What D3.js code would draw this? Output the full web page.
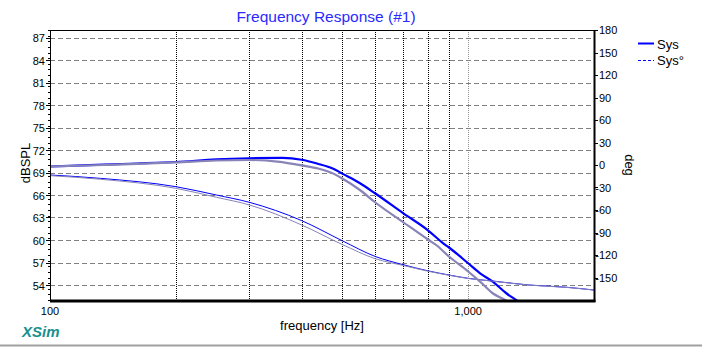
<!DOCTYPE html>
<html><head><meta charset="utf-8">
<script src="https://cdn.jsdelivr.net/npm/d3@7"></script>
<style>body{margin:0;background:#fff}svg{display:block}text{font-family:Arial,"Liberation Sans",sans-serif}</style>
</head><body><svg id="c" width="702" height="347"></svg>
<script>
// ---- data ----
const title = "Frequency Response (#1)";
const xLabel = "frequency [Hz]";
const yLabelLeft = "dBSPL";
const yLabelRight = "deg";
const xTickValues = [100, 1000];
const xGridValues = [200, 300, 400, 500, 600, 700, 800, 900, 1000];
const dbTicks = [54, 57, 60, 63, 66, 69, 72, 75, 78, 81, 84, 87];
const degTicks = [-150, -120, -90, -60, -30, 0, 30, 60, 90, 120, 150, 180];

const splSysFreq = [100, 134, 161, 200, 250, 300, 360, 400, 435, 476, 500, 550, 600, 700, 800, 872, 900, 1000, 1068, 1145, 1234, 1302, 1400];
const splSysDb   = [69.8, 70.05, 70.2, 70.4, 70.75, 70.9, 70.95, 70.7, 70.2, 69.5, 68.85, 67.6, 66.2, 63.55, 61.33, 59.55, 59.0, 56.9, 55.56, 54.45, 52.9, 52.0, 50.8];

const splRefFreq = [100, 134, 161, 200, 250, 300, 350, 400, 440, 476, 500, 550, 600, 700, 800, 840, 900, 1000, 1068, 1145, 1226, 1300];
const splRefDb   = [69.8, 70.0, 70.15, 70.35, 70.6, 70.67, 70.45, 69.95, 69.5, 68.85, 68.2, 66.7, 65.0, 62.36, 60.1, 59.3, 57.8, 55.8, 54.45, 52.9, 52.0, 51.0];

const phSysFreq = [100, 132, 200, 250, 300, 400, 500, 600, 700, 800, 900, 1000, 1145, 1400, 1720, 2000];
const phSysDeg  = [-13.3, -17.8, -28.9, -40, -49.8, -74.2, -101, -122, -133, -141, -146.7, -151.1, -154.7, -160, -163, -166.7];

const phRefFreq = [100, 132, 200, 250, 300, 400, 500, 600, 700, 800, 900, 1000, 1145, 1400, 1720, 2000];
const phRefDeg  = [-14.2, -19, -31.1, -43, -53.3, -80, -106, -125, -134, -141.5, -147, -151.3, -154.9, -160.2, -163.2, -166.8];

const legendNames = ["Sys", "Sys°"];

// ---- layout ----
const L = 50, R = 594, T = 30, B = 300;
const BLUE = "#0000ff", GREY = "#8884b8";
const svg = d3.select("#c");

const x = d3.scaleLog().domain([100, 2000]).range([L, R]);
const yDb = d3.scaleLinear().domain([52, 88]).range([B, T]);
const yDeg = d3.scaleLinear().domain([-180, 180]).range([B, T]);

// horizontal grid
svg.append("g").selectAll("line").data(dbTicks).join("line")
  .attr("x1", L).attr("x2", R)
  .attr("y1", d => Math.round(yDb(d)) + 0.5).attr("y2", d => Math.round(yDb(d)) + 0.5)
  .attr("stroke", "#808080").attr("stroke-dasharray", "5,3").attr("stroke-width", 1);

// vertical grid
svg.append("g").selectAll("line").data(xGridValues).join("line")
  .attr("x1", d => Math.round(x(d)) + 0.5).attr("x2", d => Math.round(x(d)) + 0.5)
  .attr("y1", T).attr("y2", B)
  .attr("stroke", d => d === 1000 ? "#909090" : "#000")
  .attr("stroke-dasharray", "1,1").attr("stroke-width", 1);

// curves
svg.append("clipPath").attr("id", "pc").append("rect")
  .attr("x", L).attr("y", T).attr("width", R - L).attr("height", B - T);
const plot = svg.append("g").attr("clip-path", "url(#pc)");
function drawLine(fr, vals, yScale, color, width) {
  const pts = fr.map((f, i) => [f, vals[i]]);
  plot.append("path").datum(pts)
    .attr("fill", "none").attr("stroke", color).attr("stroke-width", width)
    .attr("stroke-linejoin", "round")
    .attr("d", d3.line().x(d => x(d[0])).y(d => yScale(d[1])).curve(d3.curveMonotoneX));
}
drawLine(phSysFreq, phSysDeg, yDeg, BLUE, 1);
drawLine(splSysFreq, splSysDb, yDb, BLUE, 2.2);
drawLine(phRefFreq, phRefDeg, yDeg, GREY, 1);
drawLine(splRefFreq, splRefDb, yDb, GREY, 2.2);

// frame
svg.append("line").attr("x1", L).attr("x2", R).attr("y1", T + 0.5).attr("y2", T + 0.5).attr("stroke", "#000");
svg.append("line").attr("x1", L + 0.5).attr("x2", L + 0.5).attr("y1", T).attr("y2", B).attr("stroke", "#000");
svg.append("line").attr("x1", R + 0.5).attr("x2", R + 0.5).attr("y1", T).attr("y2", B + 2).attr("stroke", "#000").attr("stroke-width", 2);
svg.append("line").attr("x1", L).attr("x2", R + 1.5).attr("y1", B + 1).attr("y2", B + 1).attr("stroke", "#000").attr("stroke-width", 3);

// left axis ticks
const minor = d3.range(52, 88.01, 0.75).filter(v => !dbTicks.some(t => Math.abs(t - v) < 0.01));
svg.append("g").selectAll("line").data(minor).join("line")
  .attr("x1", L - 2).attr("x2", L).attr("y1", d => Math.round(yDb(d)) + 0.5).attr("y2", d => Math.round(yDb(d)) + 0.5)
  .attr("stroke", "#000");
svg.append("g").selectAll("line").data(dbTicks).join("line")
  .attr("x1", L - 4).attr("x2", L).attr("y1", d => Math.round(yDb(d)) + 0.5).attr("y2", d => Math.round(yDb(d)) + 0.5)
  .attr("stroke", "#000");
svg.append("g").selectAll("text").data(dbTicks).join("text")
  .attr("x", L - 5).attr("y", d => yDb(d) + 4.5).attr("text-anchor", "end")
  .attr("font-size", 11).attr("fill", "#000").text(d => d);

// right axis ticks
svg.append("g").selectAll("line").data(degTicks).join("line")
  .attr("x1", R + 1).attr("x2", R + 4).attr("y1", d => Math.round(yDeg(d)) + 0.5).attr("y2", d => Math.round(yDeg(d)) + 0.5)
  .attr("stroke", "#000");
const tmp = svg.append("text").attr("font-size", 11).text("-");
const minusW = tmp.node().getComputedTextLength();
tmp.remove();
svg.append("g").selectAll("text").data(degTicks).join("text")
  .attr("x", d => d < 0 ? R + 5 - minusW : R + 5).attr("y", d => yDeg(d) + 4)
  .attr("font-size", 11).attr("fill", "#000").text(d => d < 0 ? "-" + Math.abs(d) : d);

// x labels
const fmt = d3.format(",");
svg.append("g").selectAll("text").data(xTickValues).join("text")
  .attr("x", d => x(d)).attr("y", 315).attr("text-anchor", "middle")
  .attr("font-size", 11).attr("fill", "#000").text(d => fmt(d));

// axis titles
svg.append("text").attr("x", 322).attr("y", 330).attr("text-anchor", "middle")
  .attr("font-size", 13).text(xLabel);
svg.append("text").attr("transform", "translate(30,163) rotate(-90)").attr("text-anchor", "middle")
  .attr("font-size", 13).text(yLabelLeft);
svg.append("text").attr("transform", "translate(625,165) rotate(90)").attr("text-anchor", "middle")
  .attr("font-size", 13).text(yLabelRight);

// title
svg.append("text").attr("x", 326).attr("y", 21.5).attr("text-anchor", "middle")
  .attr("font-size", 15.5).attr("fill", "#2a2aff").text(title);

// legend
svg.append("line").attr("x1", 638).attr("x2", 654).attr("y1", 43.5).attr("y2", 43.5).attr("stroke", BLUE).attr("stroke-width", 2);
svg.append("line").attr("x1", 638).attr("x2", 654).attr("y1", 60.5).attr("y2", 60.5).attr("stroke", BLUE).attr("stroke-width", 1).attr("stroke-dasharray", "3,2");
svg.append("text").attr("x", 657).attr("y", 49).attr("font-size", 13).text(legendNames[0]);
svg.append("text").attr("x", 657).attr("y", 65).attr("font-size", 13).text(legendNames[1]);

// brand
svg.append("text").attr("x", 22).attr("y", 337).attr("font-size", 15).attr("font-weight", "bold")
  .attr("font-style", "italic").attr("fill", "#1a8f8f").text("XSim");
svg.append("line").attr("x1", 0).attr("x2", 702).attr("y1", 345.5).attr("y2", 345.5).attr("stroke", "#a0a0a0").attr("stroke-width", 2);
</script></body></html>
